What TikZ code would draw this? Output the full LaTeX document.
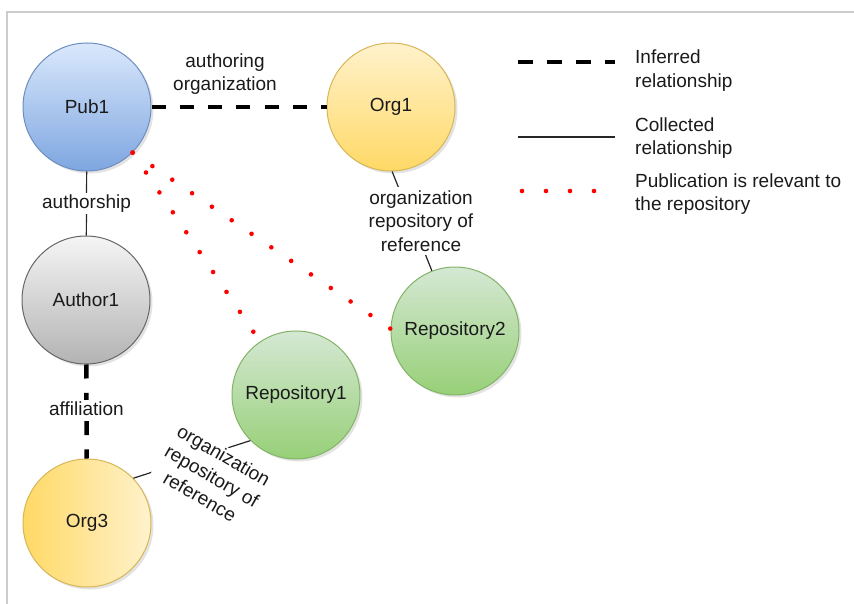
\documentclass[tikz,border=0pt]{standalone}
\usepackage{fontspec}
\setmainfont{Liberation Sans}
\usetikzlibrary{shadows}

\definecolor{blueTop}{HTML}{DAE8FC}
\definecolor{blueBot}{HTML}{7EA6E0}
\definecolor{blueLine}{HTML}{6C8EBF}
\definecolor{yelLight}{HTML}{FFF2CC}
\definecolor{yelDeep}{HTML}{FFD966}
\definecolor{yelLine}{HTML}{D6B656}
\definecolor{grayTop}{HTML}{F5F5F5}
\definecolor{grayBot}{HTML}{B3B3B3}
\definecolor{grayLine}{HTML}{666666}
\definecolor{greenTop}{HTML}{D5E8D4}
\definecolor{greenBot}{HTML}{97D077}
\definecolor{greenLine}{HTML}{82B366}
\definecolor{frameGray}{HTML}{CCCCCC}
\definecolor{dotRed}{HTML}{FF0000}
\definecolor{ink}{HTML}{1A1A1A}

\begin{document}
\begin{tikzpicture}[x=1pt, y=-1pt,
  font=\fontsize{19pt}{23.7pt}\selectfont, text=ink,
  entity/.style={circle, minimum size=128pt, inner sep=0pt, line width=1pt,
    drop shadow={opacity=0.22, shadow xshift=2.5pt, shadow yshift=-2.5pt}},
  pubnode/.style={entity, draw=blueLine, top color=blueTop, bottom color=blueBot},
  orgnode/.style={entity, draw=yelLine, top color=yelLight, bottom color=yelDeep},
  orgwest/.style={entity, draw=yelLine, left color=yelDeep, right color=yelLight},
  personnode/.style={entity, draw=grayLine, top color=grayTop, bottom color=grayBot},
  reponode/.style={entity, draw=greenLine, top color=greenTop, bottom color=greenBot},
  inferred/.style={draw=black, line width=4.5pt, dash pattern=on 14pt off 14.3pt},
  collected/.style={draw=black!85, line width=1.2pt},
  relevant/.style={draw=dotRed, line width=4.6pt, line cap=round, dash pattern=on 0pt off 24pt},
  lbl/.style={fill=white, inner sep=3pt, align=center},
  legendtext/.style={anchor=west, align=left, inner sep=0pt}
]
\useasboundingbox (0,0) rectangle (854,604);

% outer frame (top and left edges)
\draw[frameGray, line width=1.5pt] (7,604) -- (7,12) -- (854,12);

% entities
\node[pubnode]    (pub)   at (87,107)  {Pub1};
\node[orgnode]    (org1)  at (391,107) {Org1};
\node[personnode] (auth)  at (86,300)  {Author1};
\node[orgwest]    (org3)  at (87,523)  {Org3};
\node[reponode]   (repo1) at (296,395) {Repository1};
\node[reponode]   (repo2) at (455,331) {Repository2};

% publication relevance (red dotted)
\draw[relevant] (pub.-45) -- (repo1.124.6);
\draw[relevant] (pub.-45) -- (repo2.178);

% inferred relationships
\draw[inferred] (pub) -- (org1);
\node[inner sep=0pt, align=center] (lblauthorg) at (225,74) {authoring\\organization};
\draw[inferred] (auth) -- (org3)
  node[lbl, pos=0.47, inner sep=2pt] (lblaff) {affiliation};

% collected relationships
\draw[collected] (pub) -- (auth)
  node[lbl, midway, inner sep=2pt] (lblauthship) {authorship};
\draw[collected] (org1.-89) -- (repo2.111)
  node[lbl, midway, xshift=9pt] (lblorg1) {organization\\repository of\\reference};
\draw[collected] (org3.44) -- (repo1.225);
\node[lbl, rotate=-30, inner sep=2pt] (lblorg3) at (212,476) {organization\\repository of\\reference};

% legend
\coordinate (infA) at (518,62);
\coordinate (infB) at (615,62);
\draw[inferred, dash pattern=on 15pt off 14pt] (infA) -- (infB);
\node[legendtext] (infT) at (635,70.5) {Inferred\\relationship};

\coordinate (colA) at (518,137);
\coordinate (colB) at (615,137);
\draw[collected] (colA) -- (colB);
\node[legendtext] (colT) at (635,138) {Collected\\relationship};

\coordinate (relA) at (522,191);
\coordinate (relB) at (595,191);
\draw[relevant] (relA) -- (relB);
\node[legendtext] (relT) at (635,194) {Publication is relevant to\\the repository};
\end{tikzpicture}
\end{document}
